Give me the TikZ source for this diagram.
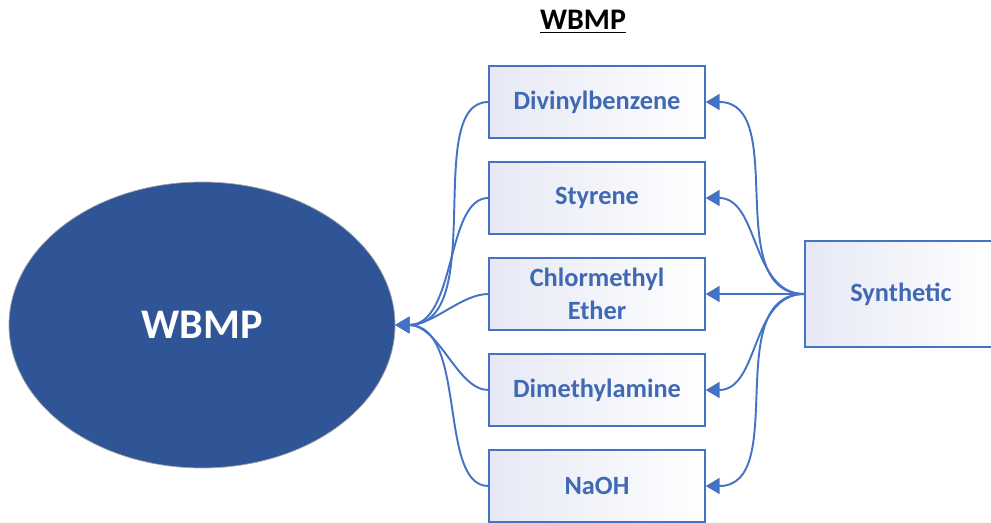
\documentclass[tikz,border=0pt]{standalone}
\usepackage{fontspec}
\setmainfont{Carlito}
\usetikzlibrary{arrows.meta,positioning,shapes}
\definecolor{lineblue}{HTML}{4472C4}
\definecolor{textblue}{HTML}{4069B3}
\definecolor{darkblue}{HTML}{2F5597}
\definecolor{lavender}{HTML}{E6E9F5}
\tikzstyle{ItemBox} = [rectangle, draw=lineblue, line width=0.8pt, left color=lavender,
    right color=white, minimum width=4.32cm, minimum height=1.44cm, align=center,
    text=textblue, font=\fontsize{15}{18.5}\selectfont\bfseries]
\tikzstyle{arrow} = [lineblue, line width=1.1pt, -{Triangle[length=0.28cm,width=0.32cm]}]

\begin{document}
\begin{tikzpicture}[]
        \useasboundingbox (0,0) rectangle (19.82,10.44);
        \node[font=\fontsize{17}{20}\selectfont\bfseries] (Title) at (11.66,10.0) {\underline{WBMP}}; %heading
        \node[ellipse, draw=gray!70, fill=darkblue, minimum width=7.72cm, minimum height=5.72cm,
            text=white, font=\fontsize{24}{28}\selectfont\bfseries] (Wbmp) at (4.04,3.94) {WBMP};
        \node[ItemBox] (Divinyl) at (11.94,8.4) {Divinylbenzene};
        \node[ItemBox] (Styrene) at (11.94,6.48) {Styrene};
        \node[ItemBox] (Ether) at (11.94,4.56) {Chlormethyl\\Ether};
        \node[ItemBox] (Amine) at (11.94,2.64) {Dimethylamine};
        \node[ItemBox] (NaOH) at (11.94,0.72) {NaOH};
        \node[ItemBox, minimum width=3.84cm, minimum height=2.12cm] (Synthetic) at (18.02,4.56) {Synthetic};
        \foreach \n in {Divinyl, Styrene, Ether, Amine, NaOH} {
            \draw[arrow] (Synthetic.west) to[out=180, in=0] (\n.east); %from synthetic
            \draw[arrow] (\n.west) to[out=180, in=0, out looseness=0.7] (Wbmp.east); %into wbmp
        }
    \end{tikzpicture}
\end{document}
